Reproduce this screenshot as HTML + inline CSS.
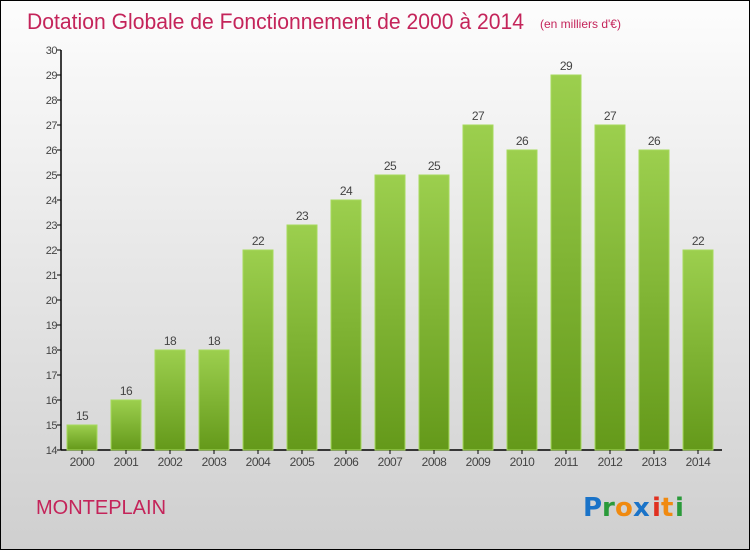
<!DOCTYPE html>
<html><head><meta charset="utf-8"><style>
body{margin:0;width:750px;height:550px;overflow:hidden;font-family:"Liberation Sans",sans-serif}
</style></head><body>
<svg id="chart" width="750" height="550" xmlns="http://www.w3.org/2000/svg">
<defs>
<linearGradient id="bg" x1="0" y1="0" x2="0" y2="1"><stop offset="0" stop-color="#fdfdfd"/><stop offset="1" stop-color="#cfcfcf"/></linearGradient>
<linearGradient id="bar" x1="0" y1="0" x2="0" y2="1"><stop offset="0" stop-color="#9ccf4e"/><stop offset="1" stop-color="#64991a"/></linearGradient>
</defs>
<rect x="0.5" y="0.5" width="749" height="549" fill="url(#bg)" stroke="#000"/>
<text x="27" y="29" font-size="22" fill="#c4245a" textLength="497" lengthAdjust="spacingAndGlyphs">Dotation Globale de Fonctionnement de 2000 à 2014</text>
<text x="540" y="28" font-size="12" fill="#c4245a">(en milliers d'€)</text>
<text x="36" y="514" font-size="20" fill="#c4245a">MONTEPLAIN</text>
<g font-size="26" font-weight="bold" font-family="'DejaVu Sans',sans-serif">
<text x="583" y="516" fill="#1a73c8">P</text><text x="602" y="516" fill="#2a9a3a">r</text><text x="615" y="516" fill="#f08a10">o</text><text x="633" y="516" fill="#1a73c8">x</text><text x="652" y="516" fill="#e03020">i</text><text x="661" y="516" fill="#f08a10">t</text><text x="675" y="516" fill="#2a9a3a">i</text>
</g>
<g id="plot"></g>
</svg>
<script>
const years=["2000","2001","2002","2003","2004","2005","2006","2007","2008","2009","2010","2011","2012","2013","2014"];
const values=[15,16,18,18,22,23,24,25,25,27,26,29,27,26,22];
const yTicks=[14,15,16,17,18,19,20,21,22,23,24,25,26,27,28,29,30];
const NS="http://www.w3.org/2000/svg";
const g=document.getElementById('plot');
const yMin=14,yMax=30,plotTop=50,plotBot=450,x0=61;
const y=v=>plotBot-(v-yMin)/(yMax-yMin)*(plotBot-plotTop);
const xc=i=>82+i*44;
function mk(t,a,txt){const e=document.createElementNS(NS,t);for(const k in a)e.setAttribute(k,a[k]);if(txt!=null)e.textContent=txt;g.appendChild(e);return e;}
let ax=mk('line',{x1:x0,y1:plotTop,x2:x0,y2:plotBot,stroke:'#000','stroke-width':1.5});


let xa=mk('line',{x1:x0,y1:plotBot,x2:722,y2:plotBot,stroke:'#000','stroke-width':1.5});


yTicks.forEach(v=>{
 let t=mk('line',{x1:x0-4,y1:y(v),x2:x0,y2:y(v),stroke:'#000'});
 
 
 let l=mk('text',{x:x0-4,y:y(v)+4,'font-size':11,fill:'#444','text-anchor':'end','letter-spacing':'-0.5'},v);
 
 
});
years.forEach((yr,i)=>{
 const v=values[i];
 let b=mk('rect',{x:xc(i)-15,y:y(v),width:30,height:plotBot-y(v),fill:'url(#bar)',stroke:'#a6da5c','stroke-width':1});
 
 
 let t=mk('line',{x1:xc(i),y1:plotBot,x2:xc(i),y2:plotBot+4,stroke:'#000'});
 
 
 let l=mk('text',{x:xc(i),y:plotBot+16,'font-size':12,fill:'#444','text-anchor':'middle','letter-spacing':'-0.5'},yr);
 
 
 let vl=mk('text',{x:xc(i),y:y(v)-5,'font-size':12,fill:'#444','text-anchor':'middle','letter-spacing':'-0.5'},v);
 
 
});
</script>
</body></html>
